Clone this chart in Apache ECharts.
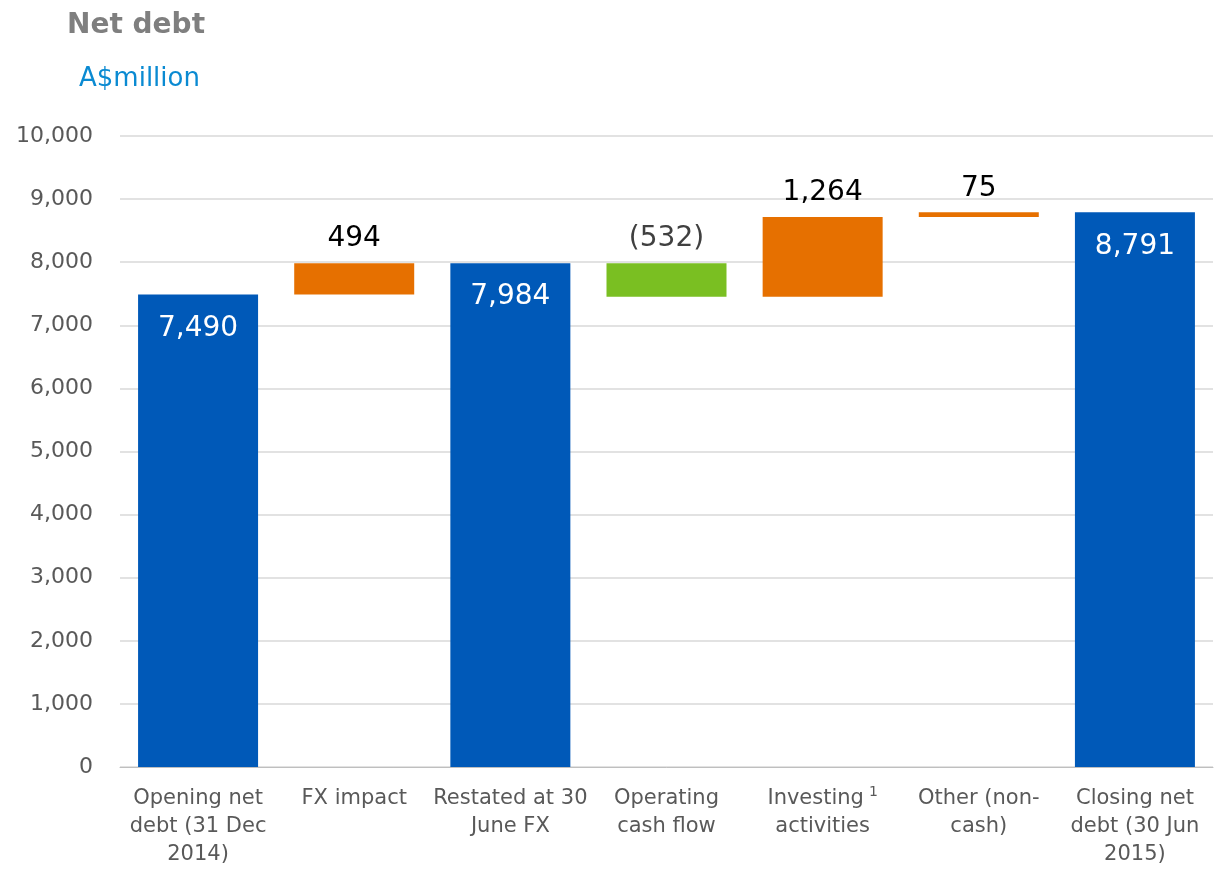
<!DOCTYPE html>
<html>
<head>
<meta charset="utf-8">
<script src="https://cdn.jsdelivr.net/npm/echarts@6/dist/echarts.min.js"></script>
<style>
html,body{margin:0;padding:0;background:#fff;}
#c{width:1214px;height:869px;}
</style>
</head>
<body>
<div id="c"></div>
<script>
const categories = ['Opening net\ndebt (31 Dec\n2014)', 'FX impact', 'Restated at 30\nJune FX', 'Operating\ncash flow', 'Investing{sup|1}\nactivities', 'Other (non-\ncash)', 'Closing net\ndebt (30 Jun\n2015)'];
const values = [7490, 494, 7984, -532, 1264, 75, 8791];
const kinds = ['total', 'up', 'total', 'down', 'up', 'up', 'total'];
const valueLabels = ['7,490', '494', '7,984', '(532)', '1,264', '75', '8,791'];
const yTicks = [0, 1000, 2000, 3000, 4000, 5000, 6000, 7000, 8000, 9000, 10000];

const colors = {total: '#0059B8', up: '#E67000', down: '#7ABF22'};

// compute waterfall base from running total
const base = [];
const heights = [];
let running = 0;
values.forEach((v, i) => {
  if (kinds[i] === 'total') {
    base.push(0); heights.push(v); running = v;
  } else if (v >= 0) {
    base.push(running); heights.push(v); running += v;
  } else {
    running += v; base.push(running); heights.push(-v);
  }
});

const chart = echarts.init(document.getElementById('c'));
chart.setOption({
  animation: false,
  title: [
    {text: 'Net debt', left: 62, top: 7, textStyle: {fontFamily: 'DejaVu Sans', fontSize: 28, fontWeight: 'bold', color: '#7F7F7F'}},
    {text: 'A$million', left: 74, top: 61, textStyle: {fontFamily: 'DejaVu Sans', fontSize: 26, fontWeight: 'normal', color: '#0A8AD2'}}
  ],
  grid: {left: 120, right: 1, top: 136, bottom: 102, containLabel: false},
  xAxis: {
    type: 'category',
    data: categories,
    axisTick: {show: false},
    axisLine: {lineStyle: {color: '#BFBFBF', width: 1}},
    axisLabel: {
      interval: 0, margin: 18, fontFamily: 'DejaVu Sans', fontSize: 21, color: '#595959', lineHeight: 28,
      rich: {sup: {fontSize: 14, verticalAlign: 'top', color: '#595959', padding: [0, 0, 16, 5], fontFamily: 'DejaVu Sans'}}
    }
  },
  yAxis: {
    type: 'value', min: 0, max: 10000, interval: 1000,
    axisLine: {show: false}, axisTick: {show: false},
    splitLine: {lineStyle: {color: '#D9D9D9', width: 1.5}},
    axisLabel: {
      margin: 27, fontFamily: 'DejaVu Sans', fontSize: 22, color: '#595959',
      formatter: v => yTicks.includes(v) ? v.toLocaleString('en-US') : ''
    }
  },
  series: [
    {
      type: 'bar', stack: 'w', data: base, barWidth: 120,
      itemStyle: {color: 'transparent'}, silent: true
    },
    {
      type: 'bar', stack: 'w', barWidth: 120,
      data: heights.map((h, i) => ({
        value: h,
        itemStyle: {color: kinds[i] === 'total' ? colors.total : (values[i] < 0 ? colors.down : colors.up)},
        label: kinds[i] === 'total'
          ? {show: true, position: 'insideTop', distance: 20, color: '#FFFFFF', fontSize: 28, fontFamily: 'DejaVu Sans', formatter: valueLabels[i]}
          : {show: true, position: 'top', distance: 10, color: values[i] < 0 ? '#404040' : '#000000', fontSize: 28, fontFamily: 'DejaVu Sans', formatter: valueLabels[i]}
      }))
    }
  ]
});
</script>
</body>
</html>
